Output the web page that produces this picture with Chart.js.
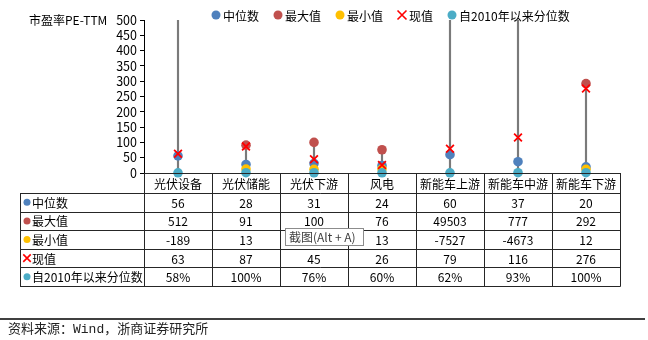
<!DOCTYPE html>
<html lang="zh">
<head>
<meta charset="utf-8">
<title>新能源板块市盈率</title>
<script src="https://cdn.jsdelivr.net/npm/chart.js@4.4.1/dist/chart.umd.min.js"></script>
<style>
  html, body { margin: 0; padding: 0; background: #fff; }
  #wrap { width: 648px; height: 340px; position: relative; }
</style>
</head>
<body>
<div id="wrap"><canvas id="peChart" width="648" height="340"></canvas></div>
<script>
// categories and series
const categories = ['光伏设备', '光伏储能', '光伏下游', '风电', '新能车上游', '新能车中游', '新能车下游'];
const medianVals = [56, 28, 31, 24, 60, 37, 20];
const maxVals = [512, 91, 100, 76, 49503, 777, 292];
const minVals = [-189, 13, 12, 13, -7527, -4673, 12];
const currentVals = [63, 87, 45, 26, 79, 116, 276];
const pctVals = [58, 100, 76, 60, 62, 93, 100]; // percent

// value axis
const yMin = 0;
const yMax = 500;
const yStep = 50;

const FONT = '"Noto Sans CJK SC", "Noto Sans", sans-serif';

const series = [
  { label: '中位数', values: medianVals, color: '#4F81BD', style: 'circle' },
  { label: '最大值', values: maxVals, color: '#C0504D', style: 'circle' },
  { label: '最小值', values: minVals, color: '#FFC000', style: 'circle' },
  { label: '现值', values: currentVals, color: '#FF0000', style: 'cross' },
  { label: '自2010年以来分位数', values: pctVals, color: '#4BACC6', style: 'circle', pct: true }
];

const inRange = v => v != null && v >= yMin && v <= yMax;

function drawMarker(ctx, style, x, y, r, color) {
  ctx.save();
  if (style === 'cross') {
    const d = r * 0.75;
    ctx.strokeStyle = color;
    ctx.lineWidth = 1.6;
    ctx.beginPath();
    ctx.moveTo(x - d, y - d); ctx.lineTo(x + d, y + d);
    ctx.moveTo(x + d, y - d); ctx.lineTo(x - d, y + d);
    ctx.stroke();
  } else {
    ctx.fillStyle = color;
    ctx.beginPath();
    ctx.arc(x, y, r, 0, Math.PI * 2);
    ctx.fill();
  }
  ctx.restore();
}

// legend across the top
const topLegend = {
  id: 'topLegend',
  afterDraw(chart) {
    const ctx = chart.ctx;
    ctx.save();
    ctx.font = '12px ' + FONT;
    ctx.textBaseline = 'middle';
    ctx.fillStyle = '#000';
    let x = 212;
    const y = 15;
    series.forEach(s => {
      drawMarker(ctx, s.style, x + 4, y, s.style === 'cross' ? 6 : 4.5, s.color);
      ctx.fillText(s.label, x + 11, y + 1);
      x += 11 + ctx.measureText(s.label).width + 15;
    });
    // axis title
    ctx.fillText('市盈率PE-TTM', 29, 20);
    ctx.restore();
  }
};

// data table under the plot area
const dataTable = {
  id: 'dataTable',
  afterDraw(chart) {
    const ctx = chart.ctx;
    const area = chart.chartArea;
    const xs = chart.scales.x;
    const half = (xs.getPixelForValue(1) - xs.getPixelForValue(0)) / 2;
    const edges = categories.map((_, i) => xs.getPixelForValue(i) - half);
    edges.push(area.right);
    const tableLeft = 20;
    const headTop = area.bottom;
    const headBottom = headTop + 20;
    const rowH = 18.6;
    const rows = series.map((s, i) => headBottom + i * rowH);
    const tableBottom = headBottom + series.length * rowH;
    const px = v => Math.round(v) + 0.5;

    ctx.save();
    ctx.strokeStyle = '#262626';
    ctx.lineWidth = 1;
    ctx.beginPath();
    // horizontal rules
    ctx.moveTo(edges[0], px(headTop)); ctx.lineTo(area.right, px(headTop));
    rows.concat([tableBottom]).forEach(y => {
      ctx.moveTo(tableLeft, px(y)); ctx.lineTo(px(area.right), px(y));
    });
    // vertical rules
    edges.forEach(x => {
      ctx.moveTo(px(x), headTop); ctx.lineTo(px(x), px(tableBottom));
    });
    ctx.moveTo(px(tableLeft), px(headBottom)); ctx.lineTo(px(tableLeft), px(tableBottom));
    ctx.stroke();

    ctx.fillStyle = '#000';
    ctx.font = '12px ' + FONT;
    ctx.textBaseline = 'middle';
    ctx.textAlign = 'center';
    categories.forEach((c, i) => {
      ctx.fillText(c, xs.getPixelForValue(i), (headTop + headBottom) / 2 + 1);
    });
    series.forEach((s, r) => {
      const cy = rows[r] + rowH / 2 + 1;
      s.values.forEach((v, i) => {
        ctx.fillText(s.pct ? v + '%' : String(v), xs.getPixelForValue(i), cy);
      });
      drawMarker(ctx, s.style, 27, cy - 1, s.style === 'cross' ? 5 : 3.5, s.color);
      ctx.textAlign = 'left';
      ctx.fillText(s.label, 32, cy);
      ctx.textAlign = 'center';
    });
    ctx.restore();
  }
};

// source note and the screenshot hint box
const footer = {
  id: 'footer',
  afterDraw(chart) {
    const ctx = chart.ctx;
    ctx.save();
    ctx.strokeStyle = '#000';
    ctx.lineWidth = 1.5;
    ctx.beginPath();
    ctx.moveTo(0, 319); ctx.lineTo(645, 319);
    ctx.stroke();
    ctx.fillStyle = '#222';
    ctx.font = '13px "Liberation Mono", "Noto Sans CJK SC", monospace';
    ctx.textBaseline = 'middle';
    ctx.fillText('资料来源：Wind，浙商证券研究所', 8, 330);

    ctx.fillStyle = '#fff';
    ctx.fillRect(285.5, 228.5, 78, 17);
    ctx.strokeStyle = '#8c8c8c';
    ctx.lineWidth = 1;
    ctx.strokeRect(285.5, 228.5, 78, 17);
    ctx.fillStyle = '#404040';
    ctx.font = '12px ' + FONT;
    ctx.fillText('截图(Alt + A)', 289, 237.5);
    ctx.restore();
  }
};

function pointSet(s, order) {
  const isCross = s.style === 'cross';
  return {
    type: 'line',
    label: s.label,
    data: s.pct ? s.values.map(v => v / 100) : s.values,
    showLine: false,
    order: order,
    clip: false,
    pointStyle: isCross ? 'crossRot' : 'circle',
    pointRadius: ctx => inRange(ctx.raw) ? (isCross ? 5.5 : 4.8) : 0,
    pointHoverRadius: 0,
    pointBackgroundColor: s.color,
    pointBorderColor: s.color,
    pointBorderWidth: isCross ? 1.8 : 0
  };
}

const ctx = document.getElementById('peChart').getContext('2d');
new Chart(ctx, {
  type: 'bar',
  data: {
    labels: categories,
    datasets: [
      {
        type: 'bar',
        label: '高低线',
        data: categories.map((_, i) => [minVals[i], maxVals[i]]),
        backgroundColor: '#7a7a7a',
        barThickness: 1.5,
        order: 10,
        clip: 0
      },
      pointSet(series[0], 5),
      pointSet(series[1], 4),
      pointSet(series[2], 3),
      pointSet(series[3], 2),
      pointSet(series[4], 1)
    ]
  },
  options: {
    responsive: false,
    animation: false,
    layout: { padding: { top: 20, left: 100, right: 28, bottom: 167 } },
    plugins: {
      legend: { display: false },
      tooltip: { enabled: false }
    },
    scales: {
      x: { display: false, offset: true },
      y: {
        min: yMin,
        max: yMax,
        afterFit: scale => { scale.width = 44; },
        ticks: {
          stepSize: yStep,
          autoSkip: false,
          color: '#000',
          padding: 3,
          font: { family: FONT, size: 12.5 }
        },
        grid: { drawOnChartArea: false, tickLength: 4, color: '#000' },
        border: { color: '#000' }
      }
    }
  },
  plugins: [dataTable, topLegend, footer]
});
</script>
</body>
</html>
